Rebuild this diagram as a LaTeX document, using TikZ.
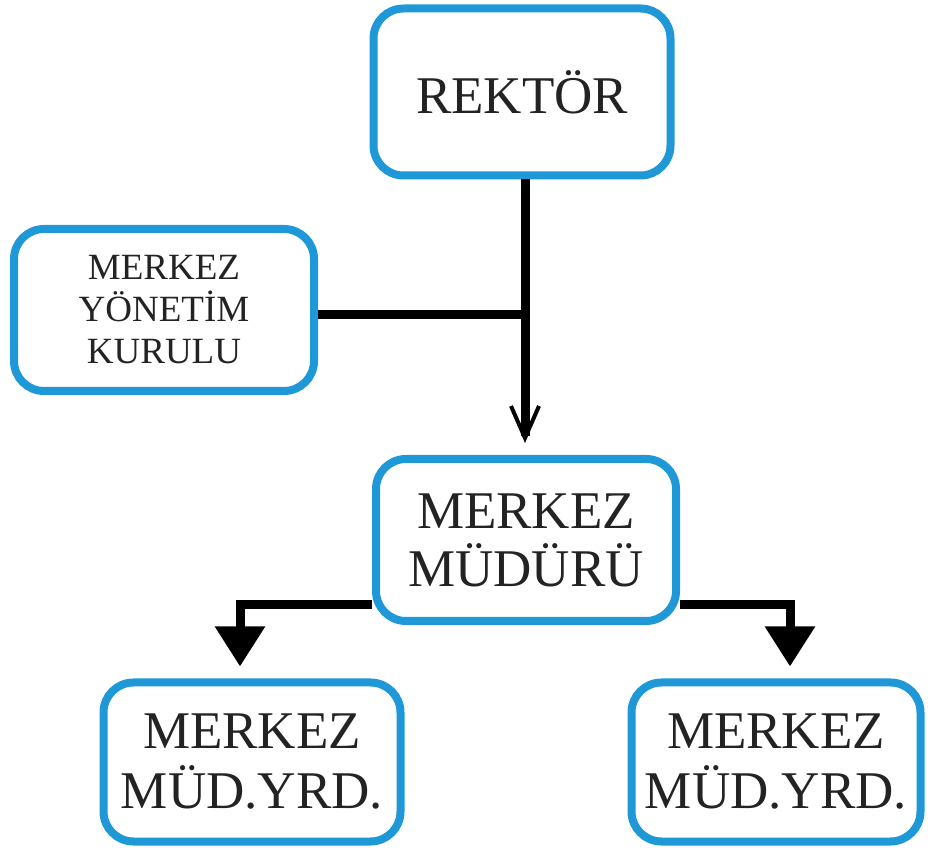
\documentclass[tikz,border=0pt]{standalone}
\usepackage{fontspec}
\setmainfont{Liberation Serif}
\usetikzlibrary{arrows.meta}
\definecolor{boxblue}{RGB}{30,152,214}
\definecolor{inkgray}{RGB}{35,35,35}
\tikzset{
  box/.style={draw=boxblue, line width=4pt, rounded corners=15pt, fill=white,
    align=center, text=inkgray, inner sep=0pt},
  bigtext/.style={font=\fontsize{26.5}{30}\selectfont},
  smalltext/.style={font=\fontsize{18.5}{21}\selectfont},
  link/.style={line width=4.5pt, black},
  thinarrow/.style={link, -{Straight Barb[length=16pt,width=14pt,line width=2pt]}},
  fatarrow/.style={link, -{Triangle[length=20pt,width=24pt]}}
}
\begin{document}
\begin{tikzpicture}[x=0.5pt, y=-0.5pt]
            \useasboundingbox (0,0) rectangle (928,850);

            % boxes
            \node[box, bigtext, minimum width=148.5pt, minimum height=83.5pt] (rektor) at (522, 92) {REKT\"OR};
            \node[box, smalltext, minimum width=150pt, minimum height=81pt] (kurul) at (164, 310) {MERKEZ\\Y\"ONET\.IM\\KURULU};
            \node[box, bigtext, font=\fontsize{26.5}{29}\selectfont, minimum width=150pt, minimum height=81pt] (mudur) at (526, 540) {MERKEZ\\M\"UD\"UR\"U};
            \node[box, bigtext, minimum width=148.5pt, minimum height=79.5pt] (yrdA) at (252, 762) {MERKEZ\\M\"UD.YRD.};
            \node[box, bigtext, minimum width=144.5pt, minimum height=79.5pt] (yrdB) at (776, 762) {MERKEZ\\M\"UD.YRD.};

            % joints
            \coordinate (joint) at (525, 315);
            \coordinate (ldrop) at (240, 605);
            \coordinate (rdrop) at (790, 605);

            \draw[thinarrow, shorten >=6pt] (joint |- rektor.south) -- (joint |- mudur.north);
            \draw[link] (kurul.east |- joint) -- (joint);
            \draw[fatarrow, shorten >=6pt] (mudur.west |- ldrop) -| (ldrop |- yrdA.north);
            \draw[fatarrow, shorten >=6pt] (mudur.east |- rdrop) -| (rdrop |- yrdB.north);
        \end{tikzpicture}
\end{document}
